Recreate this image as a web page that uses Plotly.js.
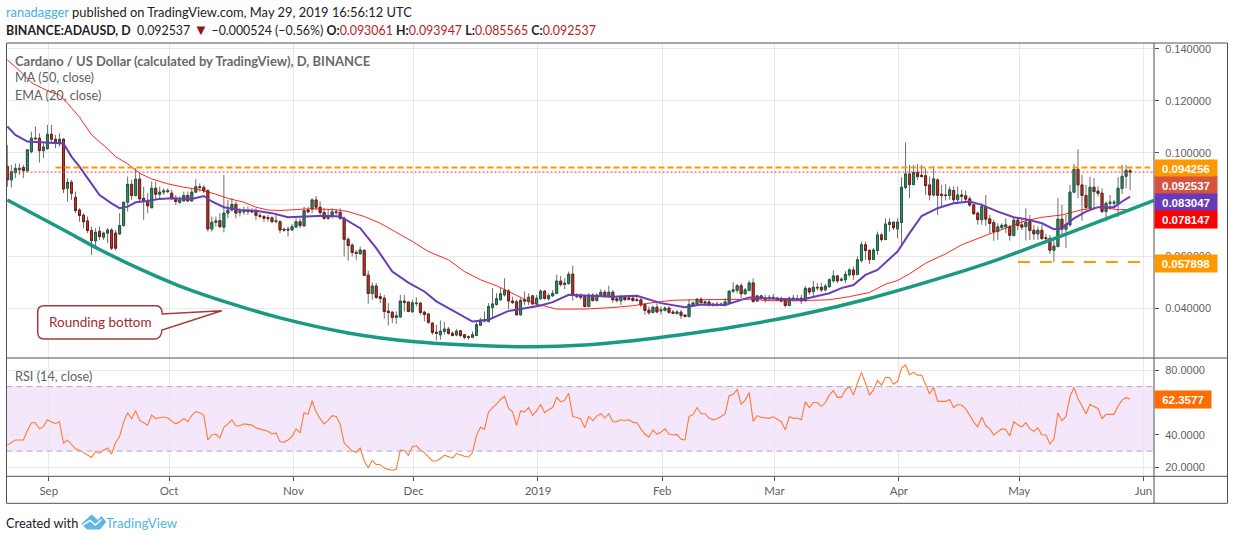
<!DOCTYPE html>
<html>
<head>
<meta charset="utf-8">
<script src="https://cdn.plot.ly/plotly-3.0.1.min.js"></script>
<style>
  html, body { margin: 0; padding: 0; background: #fff; }
  #chart { width: 1234px; height: 540px; }
</style>
</head>
<body>
<div id="chart"></div>
<script>
const firstDay = Date.UTC(2018, 7, 22);

const opens = [
  947,895,923,934,943,930,1004,1056,1056,1008,
  1016,1071,1052,1036,1052,863,886,828,779,759,
  737,700,660,697,674,690,702,690,687,719,
  809,878,835,898,824,814,788,863,840,848,
  850,844,824,809,814,835,814,848,869,866,
  854,706,732,738,713,767,779,801,769,772,
  777,776,774,758,754,750,749,734,734,705,
  705,702,713,734,718,779,783,818,790,770,
  747,754,769,770,747,666,644,616,610,624,
  528,457,486,445,439,389,385,365,367,428,
  424,387,418,420,385,378,343,308,298,311,
  320,304,297,313,298,290,288,295,335,356,
  349,403,415,433,452,467,428,425,375,433,
  426,448,417,437,466,437,448,457,505,492,
  496,532,452,448,445,407,451,430,449,462,
  445,462,437,429,443,440,439,433,433,415,
  393,384,404,390,392,401,386,380,385,374,
  368,413,417,435,420,424,416,411,412,412,
  422,466,469,487,456,469,498,428,448,439,
  439,438,439,437,429,411,435,433,439,429,
  477,465,481,481,471,483,506,525,508,510,
  529,548,530,584,645,624,588,623,683,665,
  723,732,706,731,866,918,877,924,913,911,
  876,837,895,840,837,835,854,819,837,834,
  822,799,767,742,792,745,731,696,711,714,
  715,681,740,722,715,735,701,687,701,672,
  670,624,638,744,705,722,848,936,876,835,
  787,867,852,844,773,805,805,803,862,909,
  930.61
];
const highs = [
  1030,953,959,959,953,1011,1081,1101,1075,1036,
  1107,1107,1069,1075,1056,902,895,850,786,767,
  754,715,709,715,696,709,709,702,767,812,
  908,895,940,921,869,844,889,889,869,863,
  863,857,837,831,850,850,863,898,882,876,
  859,754,754,767,914,818,824,812,786,792,
  792,786,786,767,760,760,754,767,741,711,
  715,725,747,747,792,792,824,833,812,786,
  779,786,782,786,754,674,651,625,638,626,
  545,500,497,459,451,420,388,388,452,452,
  427,433,443,424,391,382,346,337,353,347,
  328,311,320,317,301,295,311,349,362,388,
  420,478,458,478,516,474,445,433,439,465,
  458,452,452,474,471,458,471,529,525,516,
  542,564,458,458,452,458,458,458,474,471,
  487,471,448,452,452,452,449,452,439,420,
  407,410,420,407,407,407,394,394,394,377,
  435,426,439,442,430,435,422,426,422,439,
  469,501,494,497,478,507,516,452,452,452,
  452,456,445,445,439,445,452,452,452,486,
  481,506,497,499,494,516,546,529,519,544,
  555,561,600,657,657,625,632,696,690,747,
  747,734,747,906,1040,953,953,956,953,940,
  908,949,902,876,880,870,870,870,857,854,
  831,803,773,805,837,760,741,728,728,747,
  722,751,747,747,786,760,722,715,722,687,
  683,670,825,799,760,876,957,1013,915,876,
  908,902,870,863,812,837,818,906,953,953,
  939.47
];
const lows = [
  869,866,902,914,902,927,998,1049,962,979,
  1011,1036,1017,1024,844,812,818,767,734,709,
  690,606,632,664,664,651,625,623,683,715,
  773,818,831,812,741,767,786,818,818,837,
  844,818,799,803,812,812,812,844,850,844,
  696,696,715,709,693,747,773,747,754,760,
  760,767,741,747,734,734,728,728,690,696,
  677,698,709,709,713,767,767,779,760,741,
  741,747,760,741,600,584,600,587,606,525,
  418,433,436,420,360,334,343,340,362,388,
  385,382,407,375,349,340,298,276,279,298,
  298,292,292,289,281,279,285,294,333,346,
  346,368,410,430,445,397,417,372,372,413,
  413,413,413,433,433,429,445,456,484,474,
  490,430,439,433,403,404,426,426,448,442,
  443,422,422,413,430,430,426,426,404,375,
  375,381,381,375,388,379,377,375,359,367,
  367,410,413,418,410,407,407,407,410,407,
  417,458,458,439,452,465,422,425,433,422,
  430,433,430,422,403,407,426,430,417,427,
  452,445,468,462,465,481,499,497,503,497,
  522,510,529,576,587,571,587,606,657,664,
  696,702,670,645,859,825,875,895,906,837,
  816,831,760,792,816,818,805,803,812,808,
  792,760,722,722,718,687,660,664,702,690,
  661,677,702,702,661,664,664,664,664,651,
  610,578,636,674,632,715,844,825,738,780,
  780,786,831,767,735,780,786,751,841,863,
  855.65
];
const closes = [
  895,927,940,940,931,1011,1056,1054,1008,1022,
  1071,1052,1036,1052,860,886,844,777,758,734,
  700,661,693,677,690,702,632,632,719,809,
  878,835,898,822,812,795,863,840,848,853,
  853,824,812,818,835,814,848,869,866,853,
  706,732,737,715,767,779,801,767,773,776,
  773,772,758,754,747,746,734,738,702,701,
  702,715,734,719,776,772,818,790,769,747,
  756,772,772,747,666,642,615,612,625,527,
  457,486,442,438,388,384,365,371,428,423,
  388,421,420,384,376,346,307,304,312,320,
  303,295,312,295,288,288,298,337,355,351,
  407,417,437,456,469,428,422,375,431,428,
  443,417,439,466,438,449,458,505,492,497,
  532,452,445,443,407,451,430,451,462,445,
  462,433,430,445,433,435,430,430,413,392,
  383,404,386,394,401,384,380,386,372,368,
  415,421,435,422,425,413,411,416,416,425,
  466,471,487,456,471,498,426,448,438,435,
  442,442,433,428,411,439,439,438,429,477,
  463,481,479,471,486,510,525,506,512,531,
  548,529,587,645,623,588,625,683,665,725,
  732,711,732,867,918,877,924,908,908,873,
  837,899,836,835,835,857,819,837,832,821,
  798,765,742,792,744,727,695,714,720,722,
  681,740,719,713,732,700,687,701,669,669,
  624,640,744,705,724,848,936,876,835,789,
  867,850,843,773,805,809,809,863,909,932,
  925.37
];

// moving averages, read at the day numbers next to them (day 0 = first candle)
const ma50Days = [0,3,6,10,13,15,18,21,25,27,30,33,36,40,44,48,52,55,59,62,65,68,71,76,82,85,89,93,97,101,105,110,114,118,122,126,131,137,144,151,156,161,166,172,179,186,189,197,205,210,215,219,222,225,229,234,238,242,245,250,254,258,263,268,272,275,277,280];
const ma50 = [1358,1317,1270,1239,1223,1191,1137,1069,1015,985,957,921,899,880,867,857,840,824,809,790,779,777,780,784,780,773,754,728,693,658,619,587,542,510,487,458,420,397,397,403,410,422,431,433,433,435,430,429,433,445,461,493,507,533,574,610,645,670,687,715,738,751,760,780,789,785,780,781.47];
const ema20Days = [0,2,5,10,14,16,18,20,23,26,28,30,32,35,38,41,46,49,51,54,58,62,66,70,75,79,83,88,92,96,100,104,107,110,116,120,125,128,133,136,140,144,151,157,163,169,173,179,185,189,198,205,208,211,214,217,220,222,225,228,232,236,240,243,247,251,254,258,261,263,266,269,272,276,278,280];
const ema20 = [1101,1069,1043,1040,1036,985,946,902,837,805,786,792,809,814,822,824,822,833,812,790,779,776,767,751,754,757,754,709,632,542,499,465,427,401,349,356,390,397,411,424,452,449,445,448,420,404,415,413,442,439,433,458,478,490,529,548,593,619,690,756,786,805,812,799,773,751,744,728,705,709,747,773,790,790,812,830.47];

// the hand drawn rounding bottom curve
const curveDays = [0,15,23,33,43,56,68,85,101,119,131,144,156,168,181,198,215,234,247,259,272,280,286];
const curvePrices = [0.0818,0.0694,0.0627,0.0552,0.0486,0.0417,0.0363,0.0305,0.0272,0.0256,0.0252,0.0259,0.0275,0.0298,0.0328,0.0376,0.0438,0.0523,0.0588,0.0657,0.0733,0.0781,0.0816];

const rsi = [
  33.7,35.4,36.9,36.9,36.9,42.7,47.6,47.6,43.8,45.3,
  49.4,48.0,47.1,48.2,35.0,36.9,33.9,31.4,30.6,29.1,
  27.7,26.0,29.8,28.7,30.6,31.9,28.1,35.4,39.0,48.0,
  53.8,50.1,55.1,49.0,47.6,46.1,52.4,50.1,50.7,51.1,
  50.5,48.4,46.9,48.2,50.1,48.2,52.2,54.5,53.8,52.2,
  36.9,40.0,40.6,38.1,44.8,46.9,49.4,45.7,45.7,46.9,
  46.3,46.1,44.4,43.6,43.2,42.3,40.6,41.3,35.8,35.6,
  36.9,39.0,43.8,41.3,53.8,52.8,61.2,54.3,50.1,46.9,
  49.0,52.0,51.5,46.9,35.0,32.3,30.2,29.3,31.9,23.9,
  19.7,24.3,21.8,21.6,19.5,18.7,18.2,18.7,30.6,30.4,
  27.5,32.7,33.3,30.6,29.1,26.4,23.9,23.9,25.4,27.5,
  26.4,25.6,28.5,27.5,26.8,26.2,29.1,39.6,44.8,43.6,
  54.3,57.0,59.1,62.0,64.1,56.4,54.3,45.9,54.9,54.3,
  57.0,52.2,54.9,58.9,53.8,55.7,57.0,63.3,60.5,61.6,
  65.8,51.5,50.9,50.1,44.4,51.5,48.8,51.7,53.2,50.5,
  53.2,48.2,48.2,49.4,49.0,49.4,47.8,47.6,43.8,40.6,
  38.6,43.2,40.6,41.7,43.8,40.6,40.0,40.4,37.3,36.9,
  51.5,52.6,57.0,53.2,53.2,50.5,49.4,50.1,51.5,53.2,
  64.3,65.1,68.3,58.9,61.6,66.4,48.4,52.0,50.9,50.7,
  50.3,51.3,49.9,48.2,43.2,51.3,50.3,50.5,49.4,60.5,
  57.0,60.1,60.1,57.6,60.1,64.7,67.5,63.3,63.3,67.9,
  70.0,64.7,72.1,78.8,72.1,64.7,67.9,73.7,71.0,75.6,
  75.6,71.4,73.1,81.5,83.4,77.3,78.8,77.1,77.1,71.0,
  65.4,69.5,60.8,60.8,60.8,62.0,57.0,58.9,58.4,56.4,
  52.2,48.0,45.0,51.1,45.7,43.8,40.0,42.1,43.8,43.4,
  39.4,48.2,46.3,45.0,47.6,43.8,42.3,44.4,40.0,40.0,
  34.4,37.5,53.8,48.8,51.5,63.7,69.5,62.6,57.4,53.2,
  58.9,57.8,56.4,50.1,52.8,52.8,52.8,58.0,61.6,63.1,
  62.3577
];

const monthTicks = ['2018-09-01','2018-10-01','2018-11-01','2018-12-01','2019-01-01','2019-02-01','2019-03-01','2019-04-01','2019-05-01','2019-06-01'];
const monthLabels = ['Sep','Oct','Nov','Dec','2019','Feb','Mar','Apr','May','Jun'];
const priceTicks = [0.04, 0.06, 0.08, 0.10, 0.12, 0.14];
// 0.08 and RSI 60 sit fully behind the value badges in the chart
const priceLabels = ['0.040000','0.060000','','0.100000','0.120000','0.140000'];
const rsiTicks = [20, 40, 60, 80];
const rsiLabels = ['20.0000','40.0000','','80.0000'];

const resistance = 0.094256;
const lastClose = 0.092537;
const support = 0.057898;

const W = 1234, H = 540;
const PANE_LEFT = 6.5, PANE_RIGHT = 1154, FRAME_RIGHT = 1227.5;
const TOP = 43, MAIN_BOTTOM = 358, RSI_BOTTOM = 476.3, FRAME_BOTTOM = 503.3;

const toPrice = a => a.map(v => v / 10000);
const dayDate = d => new Date(firstDay + d * 864e5).toISOString().slice(0, 10);
const dates = opens.map((_, i) => dayDate(i));
const fx = x => x / W;
const fy = y => 1 - y / H;

const GREEN_BODY = '#3b8c66', GREEN_EDGE = '#1f5c41';
const RED_BODY = '#c23a2b', RED_EDGE = '#6b1f18';
const GRID = '#e8e8e8', FRAME = '#505050', TEXT = '#5f5f5f';
const FONT = 'Lato, "Open Sans", sans-serif';
const AXIS_FONT = '"Liberation Sans", Arial, sans-serif';

const traces = [
  // gray wicks first, then the coloured bodies without wicks on top
  {
    type: 'candlestick', x: dates,
    open: toPrice(opens), high: toPrice(highs), low: toPrice(lows), close: toPrice(closes),
    increasing: { line: { color: '#6e6e6e', width: 1 }, fillcolor: GREEN_BODY },
    decreasing: { line: { color: '#6e6e6e', width: 1 }, fillcolor: RED_BODY },
    whiskerwidth: 0, yaxis: 'y', showlegend: false
  },
  {
    type: 'candlestick', x: dates,
    open: toPrice(opens), close: toPrice(closes),
    high: toPrice(opens.map((o, i) => Math.max(o, closes[i]))),
    low: toPrice(opens.map((o, i) => Math.min(o, closes[i]))),
    increasing: { line: { color: GREEN_EDGE, width: 1 }, fillcolor: GREEN_BODY },
    decreasing: { line: { color: RED_EDGE, width: 1 }, fillcolor: RED_BODY },
    whiskerwidth: 0, yaxis: 'y', showlegend: false
  },
  {
    type: 'scatter', mode: 'lines', x: ma50Days.map(dayDate), y: toPrice(ma50),
    line: { color: 'rgba(255,0,0,0.85)', width: 1 }, yaxis: 'y', showlegend: false
  },
  {
    type: 'scatter', mode: 'lines', x: ema20Days.map(dayDate), y: toPrice(ema20),
    line: { color: '#6a3db8', width: 2 }, yaxis: 'y', showlegend: false
  },
  {
    type: 'scatter', mode: 'lines', x: curveDays.map(dayDate), y: curvePrices,
    line: { color: '#1b9a82', width: 3.5, shape: 'spline', smoothing: 1 }, yaxis: 'y', showlegend: false
  },
  {
    type: 'scatter', mode: 'lines', x: dates, y: rsi,
    line: { color: '#ff7a33', width: 1.1 }, yaxis: 'y2', showlegend: false
  }
];

const pixelPath = d => d.replace(/(-?[\d.]+),(-?[\d.]+)/g, (_, x, y) => fx(+x) + ',' + fy(+y));

const frameLine = (x0, y0, x1, y1) => ({
  type: 'line', xref: 'paper', yref: 'paper',
  x0: fx(x0), y0: fy(y0), x1: fx(x1), y1: fy(y1),
  line: { color: FRAME, width: 1 }, layer: 'above'
});

const callout = 'M 44,305.7 L 156,305.7 Q 162,305.7 162.3,314 L 221.7,310.7 L 162,330 Q 161,339 155,339 ' +
  'L 44,339 Q 37.7,339 37.7,332 L 37.7,312 Q 37.7,305.7 44,305.7 Z';
const logoCloud = 'M 81.7,524 L 91.5,515 L 98,520.5 L 101.5,516.5 L 105.5,522 L 100,529 L 87,529 Z';
const logoZigzag = 'M 83,525 L 90,520.5 L 95.5,525 L 101.5,519.5';

const shapes = [
  { type: 'rect', xref: 'paper', yref: 'y2', x0: fx(PANE_LEFT), x1: fx(PANE_RIGHT), y0: 30, y1: 70,
    fillcolor: 'rgba(156,39,230,0.11)', line: { width: 0 }, layer: 'between' },
  { type: 'line', xref: 'paper', yref: 'y2', x0: fx(PANE_LEFT), x1: fx(PANE_RIGHT), y0: 70, y1: 70,
    line: { color: '#b5a8ba', width: 1, dash: '6px 4px' } },
  { type: 'line', xref: 'paper', yref: 'y2', x0: fx(PANE_LEFT), x1: fx(PANE_RIGHT), y0: 30, y1: 30,
    line: { color: '#b5a8ba', width: 1, dash: '6px 4px' } },
  { type: 'line', xref: 'x', yref: 'y', x0: '2018-09-03', x1: '2019-06-03', y0: resistance, y1: resistance,
    line: { color: '#ff9800', width: 2, dash: '6px 3px' } },
  { type: 'line', xref: 'paper', yref: 'y', x0: fx(PANE_LEFT), x1: fx(PANE_RIGHT), y0: lastClose, y1: lastClose,
    line: { color: '#e53935', width: 1, dash: '2px 2px' } },
  { type: 'line', xref: 'x', yref: 'y', x0: '2019-05-01', x1: '2019-06-01', y0: support, y1: support,
    line: { color: '#ff9800', width: 2, dash: '12px 10px' } },
  frameLine(PANE_LEFT, TOP, FRAME_RIGHT, TOP),
  frameLine(PANE_LEFT, MAIN_BOTTOM, FRAME_RIGHT, MAIN_BOTTOM),
  frameLine(PANE_LEFT, RSI_BOTTOM, FRAME_RIGHT, RSI_BOTTOM),
  frameLine(PANE_LEFT, FRAME_BOTTOM, FRAME_RIGHT, FRAME_BOTTOM),
  frameLine(PANE_LEFT, TOP, PANE_LEFT, FRAME_BOTTOM),
  frameLine(PANE_RIGHT, TOP, PANE_RIGHT, FRAME_BOTTOM),
  frameLine(FRAME_RIGHT, TOP, FRAME_RIGHT, FRAME_BOTTOM),
  { type: 'path', xref: 'paper', yref: 'paper', path: pixelPath(callout),
    fillcolor: '#ffffff', line: { color: '#a83a3a', width: 1.5 }, layer: 'above' },
  { type: 'path', xref: 'paper', yref: 'paper', path: pixelPath(logoCloud),
    fillcolor: '#5cb8e8', line: { color: '#5cb8e8', width: 1 }, layer: 'above' },
  { type: 'path', xref: 'paper', yref: 'paper', path: pixelPath(logoZigzag),
    line: { color: '#ffffff', width: 1.5 }, layer: 'above' }
];

// annotations carry about 2px of padding on the left
const label = (text, x, y, color, size) => ({
  text, xref: 'paper', yref: 'paper', x: fx(x - 2), y: fy(y),
  xanchor: 'left', yanchor: 'middle', showarrow: false, align: 'left',
  font: { family: FONT, size, color }
});

const badge = (text, yTop, bg, width) => ({
  text: '<b>' + text + '</b>', xref: 'paper', yref: 'paper',
  x: fx(PANE_RIGHT), y: fy(yTop), xanchor: 'left', yanchor: 'top',
  width, height: 17, bgcolor: bg, borderpad: 0, showarrow: false, align: 'center', valign: 'middle',
  font: { family: AXIS_FONT, size: 11.5, color: '#ffffff' }
});

const RED_TXT = '#b71c1c';
const annotations = [
  label('<span style="color:#4aaee0">ranadagger</span> published on TradingView.com, May 29, 2019 16:56:12 UTC', 6, 12.5, '#222222', 12.9),
  label('<b>BINANCE:ADAUSD, D</b>  0.092537 <span style="color:#8b1a10;font-size:15px">▼</span> −0.000524 (−0.56%) <b>O:</b><span style="color:' + RED_TXT + '">0.093061</span> <b>H:</b><span style="color:' + RED_TXT + '">0.093947</span> <b>L:</b><span style="color:' + RED_TXT + '">0.085565</span> <b>C:</b><span style="color:' + RED_TXT + '">0.092537</span>', 6, 29.5, '#222222', 12.4),
  label('<b>Cardano / US Dollar (calculated by TradingView), D, BINANCE</b>', 15, 60.5, '#6a6a6a', 13),
  label('MA (50, close)', 15, 77.5, TEXT, 12.7),
  label('EMA (20, close)', 15, 94.5, TEXT, 12.7),
  label('RSI (14, close)', 15, 375.5, TEXT, 12.7),
  label('Rounding bottom', 49, 321.5, '#a52a2a', 13.5),
  label('Created with', 6, 522.5, '#222222', 12.8),
  label('TradingView', 106, 522.5, '#55b4e8', 13.2),
  badge('0.094256', 159, '#ff9800', 62),
  badge('0.092537', 176, '#d5533f', 62),
  badge('0.083047', 193, '#673ab7', 62),
  badge('0.078147', 210, '#ff0000', 62),
  badge('0.057898', 254, '#ff9800', 62),
  badge('62.3577', 390, '#ff6d00', 56)
];

const layout = {
  width: W, height: H,
  margin: { l: 0, r: 0, t: 0, b: 0 },
  paper_bgcolor: '#ffffff', plot_bgcolor: '#ffffff',
  showlegend: false, hovermode: false, dragmode: false,
  font: { family: FONT, color: TEXT },
  xaxis: {
    type: 'date', domain: [fx(PANE_LEFT), fx(PANE_RIGHT)], anchor: 'y2',
    // day -0.2 to day 286 of the candle sequence
    range: ['2018-08-21 19:00', '2019-06-03 23:00'],
    rangeslider: { visible: false },
    tickmode: 'array', tickvals: monthTicks.map(d => d + ' 08:00'), ticktext: monthLabels,
    ticks: 'outside', ticklen: 4, tickcolor: FRAME, tickfont: { family: FONT, size: 11.5, color: TEXT },
    showgrid: true, gridcolor: GRID, gridwidth: 1, zeroline: false, showline: false
  },
  yaxis: {
    domain: [fy(MAIN_BOTTOM), fy(TOP)], range: [0.02084, 0.14231], side: 'right', anchor: 'x',
    tickmode: 'array', tickvals: priceTicks, ticktext: priceLabels,
    ticks: 'outside', ticklen: 4, tickcolor: FRAME, ticklabelstandoff: 4,
    tickfont: { family: AXIS_FONT, size: 11, color: TEXT },
    showgrid: true, gridcolor: GRID, gridwidth: 1, zeroline: false, showline: false
  },
  yaxis2: {
    domain: [fy(RSI_BOTTOM), fy(MAIN_BOTTOM)], range: [14.4, 87.7], side: 'right', anchor: 'x',
    tickmode: 'array', tickvals: rsiTicks, ticktext: rsiLabels,
    ticks: 'outside', ticklen: 4, tickcolor: FRAME, ticklabelstandoff: 4,
    tickfont: { family: AXIS_FONT, size: 11, color: TEXT },
    showgrid: true, gridcolor: GRID, gridwidth: 1, zeroline: false, showline: false
  },
  shapes,
  annotations
};

Plotly.newPlot('chart', traces, layout, { staticPlot: true, displayModeBar: false, responsive: false });
</script>
</body>
</html>
